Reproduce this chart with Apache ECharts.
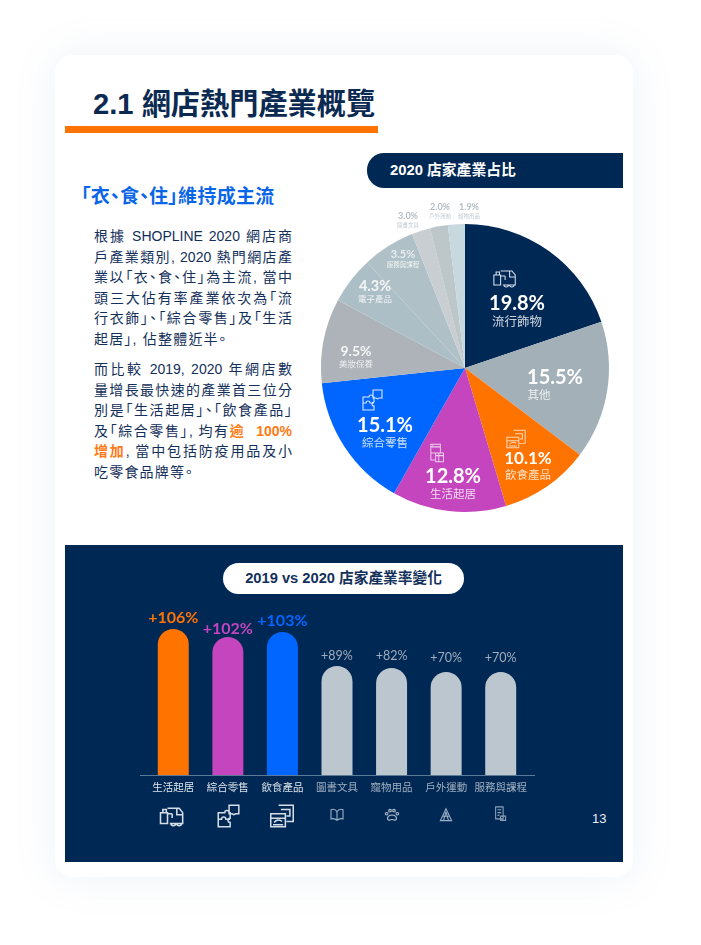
<!DOCTYPE html>
<html lang="zh-Hant">
<head>
<meta charset="utf-8">
<title>2.1 網店熱門產業概覽</title>
<script src="https://cdn.jsdelivr.net/npm/echarts@6/dist/echarts.min.js"></script>
<style>
  html, body { margin: 0; padding: 0; background: #fff; }
  body { position: relative; width: 701px; height: 945px; overflow: hidden;
    font-family: "Liberation Sans", "Noto Sans CJK TC", sans-serif; }
  .abs { position: absolute; }
  #card { left: 55px; top: 55px; width: 578px; height: 822px; background: #fff; border-radius: 18px;
    box-shadow: 0 0 42px rgba(120, 150, 190, 0.13); }
  #title { left: 93px; top: 85px; font-size: 29.2px; line-height: 38px; font-weight: 700; color: #0b2a52; white-space: nowrap; }
  #rule { left: 65px; top: 126px; width: 313px; height: 7px; background: #ff7300; }
  #pill1 { left: 367px; top: 153px; width: 233px; height: 35px; padding-left: 23px; background: #002855; border-radius: 17px 0 0 17px;
    color: #fff; font-size: 14.8px; font-weight: 700; line-height: 34px; white-space: nowrap; }
  #sub { left: 81px; top: 185px; font-size: 19px; line-height: 24px; font-weight: 700; color: #0a66e8; white-space: nowrap;
    font-feature-settings: "palt"; letter-spacing: 0.3px; }
  .para { left: 94px; width: 198px; color: #14305a; font-size: 14px; font-feature-settings: "palt"; }
  .para div { height: 20.5px; line-height: 20.5px; text-align: justify; text-align-last: justify; white-space: nowrap; }
  .para div.end { text-align-last: left; letter-spacing: 1.2px; }
  .para b { color: #ff7a14; }
  #band { left: 65px; top: 545px; width: 558px; height: 317px; background: #002855; }
  #pill2 { left: 223px; top: 563px; width: 241px; height: 31px; border-radius: 16px; background: #fff; color: #12305a;
    font-size: 14.7px; font-weight: 700; line-height: 30px; text-align: center; white-space: nowrap; }
  #page { left: 592px; top: 811px; color: #e8eef5; font-size: 13px; line-height: 16px; }
  #chart { left: 0; top: 0; width: 701px; height: 945px; }
</style>
</head>
<body>
<div class="abs" id="card"></div>
<div class="abs" id="title">2.1 網店熱門產業概覽</div>
<div class="abs" id="rule"></div>
<div class="abs" id="pill1">2020 店家產業占比</div>
<div class="abs" id="sub">「衣、食、住」維持成主流</div>
<div class="abs para" style="top:226px">
  <div>根據 SHOPLINE 2020 網店商</div>
  <div>戶產業類別, 2020 熱門網店產</div>
  <div>業以「衣、食、住」為主流, 當中</div>
  <div>頭三大佔有率產業依次為「流</div>
  <div>行衣飾」、「綜合零售」及「生活</div>
  <div class="end">起居」, 佔整體近半。</div>
</div>
<div class="abs para" style="top:359px">
  <div>而比較 2019, 2020 年網店數</div>
  <div>量增長最快速的產業首三位分</div>
  <div>別是「生活起居」、「飲食產品」</div>
  <div>及「綜合零售」, 均有<b>逾&nbsp;&nbsp;100%</b></div>
  <div><b>增加</b>, 當中包括防疫用品及小</div>
  <div class="end">吃零食品牌等。</div>
</div>
<div class="abs" id="band"></div>
<div class="abs" id="pill2">2019 vs 2020 店家產業率變化</div>
<div class="abs" id="page">13</div>
<div class="abs" id="chart"></div>

<script>
const pieNames = ['流行飾物', '其他', '飲食產品', '生活起居', '綜合零售', '美妝保養', '電子產品', '服務與課程', '圖書文具', '戶外運動', '寵物用品'];
const pieLabels = ['19.8%', '15.5%', '10.1%', '12.8%', '15.1%', '9.5%', '4.3%', '3.5%', '3.0%', '2.0%', '1.9%'];
const pieShares = [19.8, 15.5, 10.1, 12.8, 15.1, 9.5, 5.3, 5.9, 2.1, 2.0, 1.9];
const pieColors = ['#002855', '#a3b0b8', '#ff7300', '#c445bd', '#0066ff', '#adb3b8', '#adbfc6', '#afc1c7', '#c8ced1', '#bdc6c9', '#c7d8de'];

// bars: heights in the source don't follow the printed percentages, so both are kept
const barNames = ['生活起居', '綜合零售', '飲食產品', '圖書文具', '寵物用品', '戶外運動', '服務與課程'];
const barLabels = ['+106%', '+102%', '+103%', '+89%', '+82%', '+70%', '+70%'];
const barHeights = [146, 138, 143, 109, 107, 103, 103];
const barColors = ['#ff7300', '#c445bd', '#0066ff', '#bcc6cf', '#bcc6cf', '#bcc6cf', '#bcc6cf'];
const barLabelGaps = [3, 0, 3, 4, 6, 8, 8];

// label block centres and font sizes for the pie [x, y, value size, name size, value colour]
const pieLabelStyle = [
  [517, 311, 20, 12.5, '#fff'],
  [555, 385, 20, 11.5, '#fff'],
  [528, 466, 17, 11.5, '#fff'],
  [453, 484, 20, 11.5, '#fff'],
  [385, 433, 20, 11.5, '#fff'],
  [356, 357, 14, 8.5, '#f4f6f7'],
  [375, 292, 14.5, 8.5, '#f4f6f7'],
  [403, 259, 11, 6.5, '#e6ecef'],
  [408, 220, 9, 5.5, '#b4bdc3'],
  [440, 211, 9, 5.5, '#b4bdc3'],
  [469, 211, 9, 5.5, '#b4bdc3']
];

const icons = {
  fashion: 'M3 8h6v10H3z M5 8V5h3v3 M9 4h10l3 4v10H11 M9 9h4 M13 9v4 M17 4v6h5 M12 18a2 2 0 1 0 4 0 M17 18a2 2 0 1 0 4 0',
  puzzle: 'M3 9h6a2 2 0 0 1 4 0h1v5a2 2 0 0 0 0 4v4H3z M3 15h3a2 2 0 0 1 4 0h4 M13 2h9v8h-3a2 2 0 0 1-3 0h-3z',
  food: 'M9 2h13v15H16 M11 6h8v6h-3 M2 10h13v12H2z M2 14h13 M5 18c2-3 5-3 7-1 M4 20h9',
  home: 'M3 2h12v10H3z M3 5h12 M5 3.5h1 M3 12v8h5 M9 12h10v10H9z M9 15h10 M13 12v10',
  book: 'M12 7C10 4 6 3 3 4v14c3-1 7 0 9 2 2-2 6-3 9-2V4c-3-1-7 0-9 3z M12 7v13',
  paw: 'M6 15c2-4 10-4 12 0 2 3 0 6-3 5-2-1-4-1-6 0-3 1-5-2-3-5z M2 10a2 2 0 1 0 4 0a2 2 0 1 0-4 0z M7 5a2 2 0 1 0 4 0a2 2 0 1 0-4 0z M13 5a2 2 0 1 0 4 0a2 2 0 1 0-4 0z M18 10a2 2 0 1 0 4 0a2 2 0 1 0-4 0z',
  tent: 'M12 2L3 21h18z M12 7L8 21 M12 7L16 21 M7 14h10',
  doc: 'M5 2h12v17H5z M8 6h6 M8 10h6 M8 14h3 M13 15h8v6h-8z'
};

// the graphic component has no plain path type, so each icon becomes a registered shape
Object.keys(icons).forEach((k) => {
  echarts.graphic.registerShape('icon_' + k, echarts.graphic.extendPath(icons[k], {}));
});

const iconItem = (name, cx, cy, w, h, color, lw) => ({
  type: 'icon_' + name,
  silent: true,
  z: 10,
  x: cx - w / 2,
  y: cy - h / 2,
  scaleX: w / 24,
  scaleY: h / 24,
  style: { fill: 'none', stroke: color, lineWidth: lw * 48 / (w + h) }
});

const labelFont = "Lato, 'Noto Sans CJK TC', sans-serif";

const pieData = pieShares.map((v, i) => {
  const s = pieLabelStyle[i];
  return {
    name: pieNames[i],
    value: v,
    itemStyle: { color: pieColors[i] },
    label: {
      formatter: '{v|' + pieLabels[i] + '}\n{n|' + pieNames[i] + '}',
      rich: {
        v: { fontFamily: labelFont, fontSize: s[2], fontWeight: 700, color: s[4], lineHeight: s[2] + 1, align: 'center' },
        n: {
          fontFamily: labelFont, fontSize: s[3], color: i > 7 ? '#c3cbd0' : 'rgba(255,255,255,0.8)',
          lineHeight: s[3] + 3, align: 'center', padding: i === 1 ? [0, 32, 0, 0] : 0
        }
      }
    }
  };
});

const chart = echarts.init(document.getElementById('chart'), null, { renderer: 'canvas' });

chart.setOption({
  animation: false,
  backgroundColor: 'transparent',
  grid: { left: 146, width: 382, top: 600, height: 175 },
  xAxis: {
    type: 'category',
    data: barNames,
    axisLine: { show: false },
    axisTick: { show: false },
    axisLabel: {
      interval: 0,
      margin: 7,
      fontFamily: "'Noto Sans CJK TC', sans-serif",
      fontSize: 10.5,
      color: (value, index) => (index < 3 ? '#dfe6ec' : '#a0afc0')
    }
  },
  yAxis: { type: 'value', min: 0, max: 175, show: false },
  series: [
    {
      type: 'pie',
      center: [465, 368],
      radius: [0, 144],
      startAngle: 90,
      clockwise: true,
      silent: true,
      avoidLabelOverlap: false,
      labelLine: { show: false },
      label: { show: true, position: 'inside' },
      labelLayout: (p) => ({
        x: pieLabelStyle[p.dataIndex][0],
        y: pieLabelStyle[p.dataIndex][1],
        align: 'center',
        verticalAlign: 'middle',
        hideOverlap: false
      }),
      data: pieData
    },
    {
      type: 'bar',
      barWidth: 31,
      silent: true,
      data: barHeights.map((v, i) => ({
        value: v,
        itemStyle: { color: barColors[i], borderRadius: [15.5, 15.5, 0, 0] },
        label: {
          show: true,
          position: 'top',
          distance: barLabelGaps[i],
          formatter: barLabels[i],
          fontFamily: labelFont,
          fontSize: i < 3 ? 16 : 12.5,
          fontWeight: i < 3 ? 700 : 400,
          color: i < 3 ? barColors[i] : '#9fadbd'
        }
      }))
    }
  ],
  graphic: [
    // baseline runs past the category bands
    { type: 'line', silent: true, shape: { x1: 140, y1: 775.5, x2: 535, y2: 775.5 }, style: { stroke: '#5b7a98', lineWidth: 1 } },
    // pie icons
    iconItem('fashion', 504, 279, 27, 24, '#d8e0ea', 1),
    iconItem('puzzle', 372, 400, 24, 24, '#dbe8ff', 1.1),
    iconItem('food', 516, 439, 22, 21, '#ffd9b8', 1),
    iconItem('home', 438, 453, 19, 21, '#f0d2ee', 1),
    // bar icons
    iconItem('fashion', 171, 817, 28, 26, '#d5dde6', 1.5),
    iconItem('puzzle', 228, 816, 26, 26, '#d5dde6', 1.5),
    iconItem('food', 282, 816, 27, 26, '#d5dde6', 1.5),
    iconItem('book', 337, 815, 16, 16, '#9db0c4', 1.1),
    iconItem('paw', 392, 815, 16, 15, '#aebccb', 1.1),
    iconItem('tent', 446, 815, 15, 15, '#9db0c4', 1.1),
    iconItem('doc', 500, 814, 15, 17, '#8fa3b8', 1.1)
  ]
});
</script>
</body>
</html>
